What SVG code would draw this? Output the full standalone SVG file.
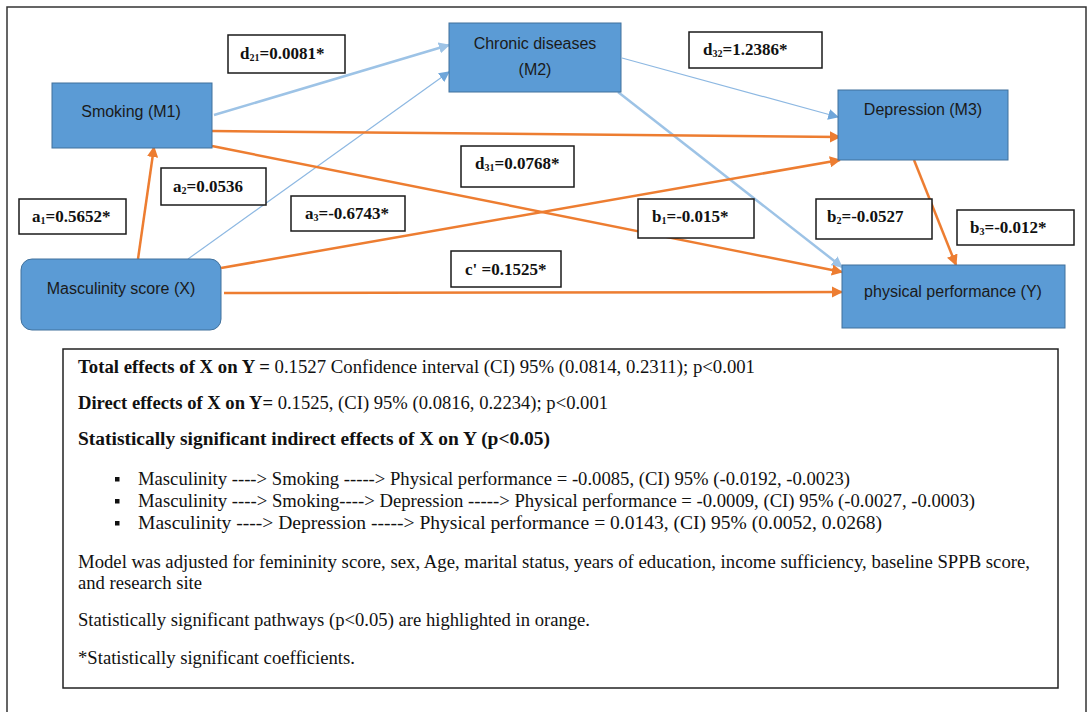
<svg xmlns="http://www.w3.org/2000/svg" width="1090" height="712" viewBox="0 0 1090 712">
  <style>
    .node { fill: #5B9BD5; stroke: #41719C; stroke-width: 1; }
    .ntext { font-family: "Liberation Sans", Arial, sans-serif; font-size: 16px; fill: #1a1a1a; text-anchor: middle; }
    .lbox { fill: #ffffff; stroke: #1a1a1a; stroke-width: 1.5; }
    .ltext { font-family: "Liberation Serif", "Times New Roman", serif; font-size: 17px; font-weight: bold; fill: #111; }
    .sub { font-size: 10px; }
    .orange { stroke: #ED7D31; stroke-width: 2.5; fill: none; marker-end: url(#arrO); }
    .blue { stroke: #9DC3E6; stroke-width: 2.5; fill: none; marker-end: url(#arrB); }
    .bluethin { stroke: #8DB8E2; stroke-width: 1.2; fill: none; marker-end: url(#arrBt); }
    .btext { font-family: "Liberation Serif", "Times New Roman", serif; font-size: 18px; fill: #111; }
    .b { font-weight: bold; }
  </style>
  <defs>
    <marker id="arrO" viewBox="0 0 10 10" refX="9" refY="5" markerWidth="4.5" markerHeight="4.5" orient="auto" markerUnits="strokeWidth">
      <path d="M0,0 L10,5 L0,10 z" fill="#ED7D31"/>
    </marker>
    <marker id="arrB" viewBox="0 0 10 10" refX="9" refY="5" markerWidth="4.5" markerHeight="4.5" orient="auto" markerUnits="strokeWidth">
      <path d="M0,0 L10,5 L0,10 z" fill="#9DC3E6"/>
    </marker>
    <marker id="arrBt" viewBox="0 0 10 10" refX="9" refY="5" markerWidth="9" markerHeight="9" orient="auto" markerUnits="strokeWidth">
      <path d="M0,0 L10,5 L0,10 z" fill="#6FA6DA"/>
    </marker>
  </defs>

  <rect width="1090" height="712" fill="#ffffff"/>
  <!-- outer frame -->
  <rect x="7" y="7" width="1079" height="720" fill="none" stroke="#333" stroke-width="1.5"/>

  <!-- connectors -->
  <g id="connectors">
    <line class="blue" x1="214" y1="115" x2="449" y2="45"/>
    <line class="bluethin" x1="188" y1="259" x2="449" y2="72"/>
    <line class="bluethin" x1="622" y1="58" x2="838" y2="117"/>
    <line class="blue" x1="618" y1="92" x2="842" y2="267"/>
    <line class="orange" x1="212" y1="131" x2="840" y2="137"/>
    <line class="orange" x1="212" y1="146" x2="842" y2="272"/>
    <line class="orange" x1="138" y1="259" x2="154" y2="147"/>
    <line class="orange" x1="221" y1="268" x2="840" y2="160"/>
    <line class="orange" x1="224" y1="293" x2="842" y2="292"/>
    <line class="orange" x1="914" y1="160" x2="956" y2="265"/>
  </g>

  <!-- nodes -->
  <g id="smoking">
    <rect class="node" x="52" y="83" width="160" height="65"/>
    <text class="ntext" x="131" y="117">Smoking (M1)</text>
  </g>
  <g id="chronic">
    <rect class="node" x="449" y="23" width="172" height="69"/>
    <text class="ntext" x="535" y="49">Chronic diseases</text>
    <text class="ntext" x="535" y="75">(M2)</text>
  </g>
  <g id="depression">
    <rect class="node" x="838" y="90" width="170" height="70"/>
    <text class="ntext" x="923" y="115">Depression (M3)</text>
  </g>
  <g id="performance">
    <rect class="node" x="842" y="265" width="223" height="63"/>
    <text class="ntext" x="953" y="297">physical performance (Y)</text>
  </g>
  <g id="masculinity">
    <rect class="node" x="21" y="259" width="200" height="71" rx="11" ry="11"/>
    <text class="ntext" x="121" y="294">Masculinity score (X)</text>
  </g>

  <!-- path coefficients -->
  <g id="coef-d21">
    <rect class="lbox" x="228" y="35" width="117" height="38"/>
    <text class="ltext" x="240" y="59">d<tspan class="sub" dy="2">21</tspan><tspan dy="-2">=0.0081*</tspan></text>
  </g>
  <g id="coef-d32">
    <rect class="lbox" x="689" y="32" width="133" height="36"/>
    <text class="ltext" x="703" y="55">d<tspan class="sub" dy="2">32</tspan><tspan dy="-2">=1.2386*</tspan></text>
  </g>
  <g id="coef-d31">
    <rect class="lbox" x="461" y="146" width="113" height="41"/>
    <text class="ltext" x="475" y="169">d<tspan class="sub" dy="2">31</tspan><tspan dy="-2">=0.0768*</tspan></text>
  </g>
  <g id="coef-a1">
    <rect class="lbox" x="19" y="199" width="107" height="35"/>
    <text class="ltext" x="32" y="222">a<tspan class="sub" dy="2">1</tspan><tspan dy="-2">=0.5652*</tspan></text>
  </g>
  <g id="coef-a2">
    <rect class="lbox" x="161" y="168" width="105" height="37"/>
    <text class="ltext" x="173" y="192">a<tspan class="sub" dy="2">2</tspan><tspan dy="-2">=0.0536</tspan></text>
  </g>
  <g id="coef-a3">
    <rect class="lbox" x="291" y="196" width="114" height="35"/>
    <text class="ltext" x="305" y="219">a<tspan class="sub" dy="2">3</tspan><tspan dy="-2">=-0.6743*</tspan></text>
  </g>
  <g id="coef-b1">
    <rect class="lbox" x="638" y="199" width="116" height="39"/>
    <text class="ltext" x="652" y="222">b<tspan class="sub" dy="2">1</tspan><tspan dy="-2">=-0.015*</tspan></text>
  </g>
  <g id="coef-c">
    <rect class="lbox" x="451" y="251" width="110" height="36"/>
    <text class="ltext" x="465" y="275">c' =0.1525*</text>
  </g>
  <g id="coef-b2">
    <rect class="lbox" x="816" y="199" width="116" height="40"/>
    <text class="ltext" x="827" y="222">b<tspan class="sub" dy="2">2</tspan><tspan dy="-2">=-0.0527</tspan></text>
  </g>
  <g id="coef-b3">
    <rect class="lbox" x="957" y="210" width="117" height="35"/>
    <text class="ltext" x="970" y="233">b<tspan class="sub" dy="2">3</tspan><tspan dy="-2">=-0.012*</tspan></text>
  </g>

  <!-- effects summary -->
  <g id="summary">
    <rect x="63" y="349" width="995" height="339" fill="#ffffff" stroke="#222" stroke-width="1.5"/>
    <text class="btext" x="78" y="373" textLength="677" lengthAdjust="spacingAndGlyphs"><tspan class="b">Total effects of X on Y =</tspan> 0.1527 Confidence interval (CI) 95% (0.0814, 0.2311); p&lt;0.001</text>
    <text class="btext" x="78" y="409" textLength="530" lengthAdjust="spacingAndGlyphs"><tspan class="b">Direct effects of X on Y=</tspan> 0.1525, (CI) 95% (0.0816, 0.2234); p&lt;0.001</text>
    <text class="btext b" x="78" y="445" textLength="472" lengthAdjust="spacingAndGlyphs">Statistically significant indirect effects of X on Y (p&lt;0.05)</text>
    <rect x="115" y="477" width="4.5" height="4.5" fill="#111"/>
    <text class="btext" x="138" y="485" textLength="712" lengthAdjust="spacingAndGlyphs">Masculinity ----&gt; Smoking -----&gt; Physical performance = -0.0085, (CI) 95% (-0.0192, -0.0023)</text>
    <rect x="115" y="499" width="4.5" height="4.5" fill="#111"/>
    <text class="btext" x="138" y="507" textLength="837" lengthAdjust="spacingAndGlyphs">Masculinity ----&gt; Smoking----&gt; Depression -----&gt; Physical performance = -0.0009, (CI) 95% (-0.0027, -0.0003)</text>
    <rect x="115" y="521" width="4.5" height="4.5" fill="#111"/>
    <text class="btext" x="138" y="529" textLength="744" lengthAdjust="spacingAndGlyphs">Masculinity ----&gt; Depression -----&gt; Physical performance = 0.0143, (CI) 95% (0.0052, 0.0268)</text>
    <text class="btext" x="78" y="568" textLength="952" lengthAdjust="spacingAndGlyphs">Model was adjusted for femininity score, sex, Age, marital status, years of education, income sufficiency, baseline SPPB score,</text>
    <text class="btext" x="78" y="589" textLength="124" lengthAdjust="spacingAndGlyphs">and research site</text>
    <text class="btext" x="78" y="626" textLength="512" lengthAdjust="spacingAndGlyphs">Statistically significant pathways (p&lt;0.05) are highlighted in orange.</text>
    <text class="btext" x="78" y="664" textLength="277" lengthAdjust="spacingAndGlyphs">*Statistically significant coefficients.</text>
  </g>
</svg>
